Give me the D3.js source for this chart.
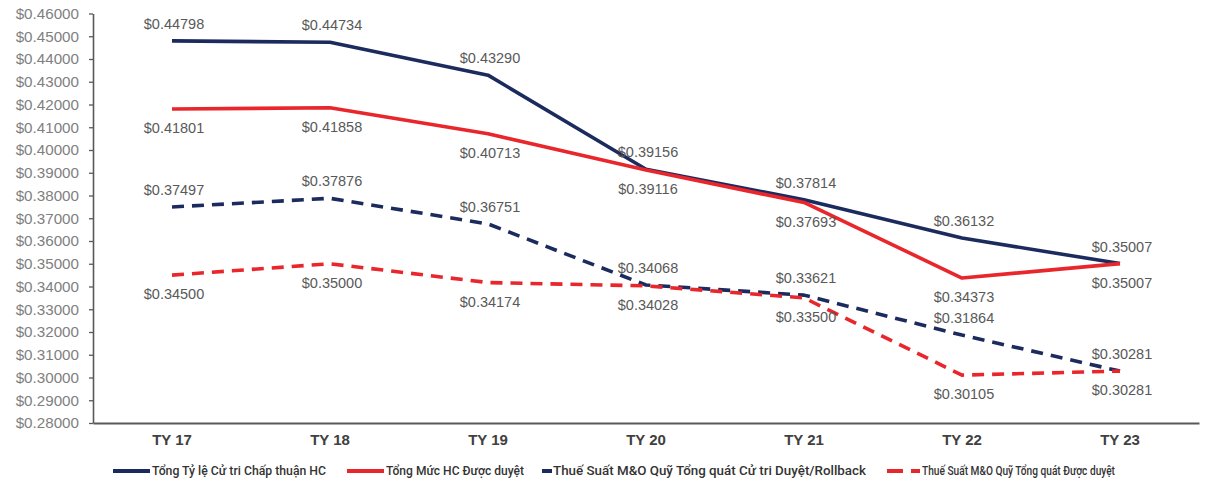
<!DOCTYPE html>
<html>
<head>
<meta charset="utf-8">
<script src="https://cdn.jsdelivr.net/npm/d3@7"></script>
<style>
  body { margin: 0; background: #fff; }
  .tick text { font-family: "Liberation Sans", Arial, sans-serif; }
  .lbl { font-family: "Liberation Sans", Arial, sans-serif; font-size: 14.5px; fill: #595959; }
  .legend text { font-family: Roboto, "Liberation Sans", sans-serif; font-size: 12.5px; font-weight: 500; fill: #333; }
</style>
</head>
<body>
<svg id="chart" width="1206" height="487"></svg>
<script>
var categories = ["TY 17", "TY 18", "TY 19", "TY 20", "TY 21", "TY 22", "TY 23"];
var voterApproved = [0.44798, 0.44734, 0.43290, 0.39156, 0.37814, 0.36132, 0.35007];
var hcApproved = [0.41801, 0.41858, 0.40713, 0.39116, 0.37693, 0.34373, 0.35007];
var mnoVoterRollback = [0.37497, 0.37876, 0.36751, 0.34068, 0.33621, 0.31864, 0.30281];
var mnoApproved = [0.34500, 0.35000, 0.34174, 0.34028, 0.33500, 0.30105, 0.30281];
var yTicks = [0.28, 0.29, 0.30, 0.31, 0.32, 0.33, 0.34, 0.35, 0.36, 0.37, 0.38, 0.39, 0.40, 0.41, 0.42, 0.43, 0.44, 0.45, 0.46];
var seriesNames = [
  "Tổng Tỷ lệ Cử tri Chấp thuận HC",
  "Tổng Mức HC Được duyệt",
  "Thuế Suất M&O Quỹ Tổng quát Cử tri Duyệt/Rollback",
  "Thuế Suất M&O Quỹ Tổng quát Được duyệt"
];

var navy = "#1c2b5e", red = "#e8262b";
var series = [
  {name: seriesNames[0], values: voterApproved, color: navy, dash: null, above: true},
  {name: seriesNames[1], values: hcApproved, color: red, dash: null, above: false},
  {name: seriesNames[2], values: mnoVoterRollback, color: navy, dash: "12,8", above: true},
  {name: seriesNames[3], values: mnoApproved, color: red, dash: "12,8", above: false}
];

var margin = {top: 13.5, left: 93, right: 7, bottom: 64},
    W = 1206, H = 487;

var svg = d3.select("#chart");

var x = d3.scaleBand().domain(categories).range([margin.left, W - margin.right]);
var y = d3.scaleLinear().domain([0.28, 0.46]).range([H - margin.bottom, margin.top]);

var yAxis = svg.append("g")
    .attr("transform", "translate(" + margin.left + ",0)")
    .call(d3.axisLeft(y).tickValues(yTicks).tickSize(4).tickSizeOuter(0).tickPadding(10)
      .tickFormat(function(d) { return "$" + d.toFixed(5); }));
yAxis.select(".domain").attr("stroke", "#595959").attr("stroke-width", 1.6);
yAxis.selectAll(".tick line").attr("stroke", "#595959").attr("stroke-width", 1.3);
yAxis.selectAll(".tick text").attr("fill", "#7f7f7f").style("font-size", "15.2px");

var xAxis = svg.append("g")
    .attr("transform", "translate(0," + y(0.28) + ")")
    .call(d3.axisBottom(x).tickSize(0).tickSizeOuter(0).tickPadding(11));
xAxis.select(".domain").attr("stroke", "#595959").attr("stroke-width", 2);
xAxis.selectAll(".tick text").attr("fill", "#404040")
    .style("font-size", "15px").style("font-weight", "bold");

var line = d3.line()
    .x(function(d, i) { return x(categories[i]) + x.bandwidth() / 2; })
    .y(function(d) { return y(d); });

series.forEach(function(s) {
  svg.append("path")
      .datum(s.values)
      .attr("fill", "none")
      .attr("stroke", s.color)
      .attr("stroke-width", 3.6)
      .attr("stroke-dasharray", s.dash)
      .attr("stroke-linejoin", "round")
      .attr("d", line);
});

series.forEach(function(s) {
  svg.append("g").selectAll("text")
      .data(s.values)
    .enter().append("text")
      .attr("class", "lbl")
      .attr("x", function(d, i) { return x(categories[i]) + x.bandwidth() / 2 + 2; })
      .attr("y", function(d) { return y(d) + (s.above ? -17 : 19); })
      .attr("dy", "0.35em")
      .attr("text-anchor", "middle")
      .text(function(d) { return "$" + d.toFixed(5); });
});

// legend
var legendX = [113, 347, 542, 887];
var legendTextW = [174, 138, 313, 193];
var legend = svg.append("g").attr("class", "legend");
series.forEach(function(s, i) {
  var g = legend.append("g").attr("transform", "translate(" + legendX[i] + ",471)");
  var tx;
  if (i === 2) {
    g.append("line").attr("x1", 0).attr("x2", 10).attr("stroke", s.color).attr("stroke-width", 4);
    tx = 11;
  } else if (i === 3) {
    g.append("line").attr("x1", 0).attr("x2", 16).attr("stroke", s.color).attr("stroke-width", 4);
    g.append("line").attr("x1", 24).attr("x2", 33).attr("stroke", s.color).attr("stroke-width", 4);
    tx = 35;
  } else {
    g.append("line").attr("x1", 0).attr("x2", 37).attr("stroke", s.color).attr("stroke-width", 4);
    tx = 39;
  }
  g.append("text").attr("x", tx).attr("dy", "0.35em")
      .attr("textLength", legendTextW[i]).attr("lengthAdjust", "spacingAndGlyphs")
      .text(s.name);
});
</script>
</body>
</html>
